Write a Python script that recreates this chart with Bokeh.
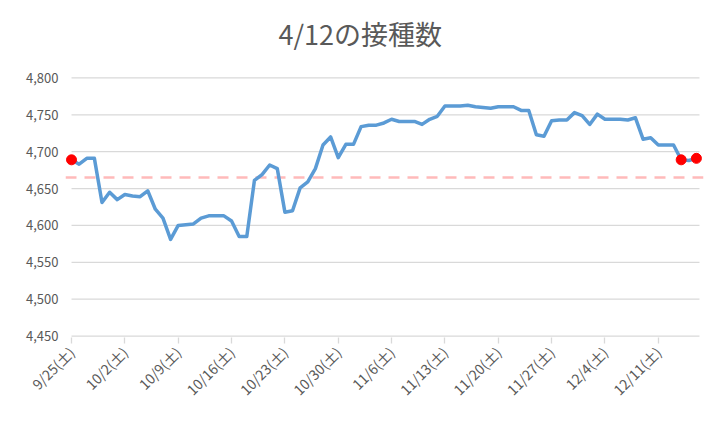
from bokeh.plotting import figure
from bokeh.models import Range1d, FixedTicker, NumeralTickFormatter, Span, Title
from bokeh.embed import file_html
from bokeh.resources import INLINE

# ---- data ----
title_text = "4/12の接種数"
tick_labels = ["9/25(土)", "10/2(土)", "10/9(土)", "10/16(土)", "10/23(土)", "10/30(土)",
               "11/6(土)", "11/13(土)", "11/20(土)", "11/27(土)", "12/4(土)", "12/11(土)"]
values = [4689, 4683, 4691, 4691, 4631, 4645, 4635, 4642, 4640, 4639,
          4647, 4622, 4610, 4581, 4600, 4601, 4602, 4610, 4613, 4613,
          4613, 4606, 4585, 4585, 4661, 4669, 4682, 4677, 4618, 4620,
          4651, 4659, 4677, 4709, 4720, 4692, 4710, 4710, 4734, 4736,
          4736, 4739, 4744, 4741, 4741, 4741, 4737, 4744, 4748, 4762,
          4762, 4762, 4763, 4761, 4760, 4759, 4761, 4761, 4761, 4756,
          4756, 4723, 4721, 4742, 4743, 4743, 4753, 4749, 4737, 4751,
          4744, 4744, 4744, 4743, 4746, 4717, 4719, 4709, 4709, 4709,
          4689, 4688, 4691]
marked_idx = [0, 80, 82]
ref_value = 4665
y_ticks = [4450, 4500, 4550, 4600, 4650, 4700, 4750, 4800]

FONT = "Noto Sans CJK JP"
GRAY = "#595959"
GRID = "#D9D9D9"

x = list(range(len(values)))
tick_pos = [i * 7 for i in range(len(tick_labels))]
x_end = len(values) - 1 + 0.4

p = figure(width=706, height=417, output_backend="svg", toolbar_location=None,
           x_range=Range1d(-0.79, 82.93), y_range=Range1d(4448, 4802),
           min_border_left=65, min_border_right=3, min_border_top=76, min_border_bottom=80)
p.title = None
# spacer panel between plot area and title, then the title itself
p.add_layout(Title(text=" ", text_font_size="1px", standoff=19), "above")
p.add_layout(Title(text=title_text, align="left", offset=213, standoff=0,
                   vertical_align="top",
                   text_font=FONT, text_font_size="27px", text_font_style="normal",
                   text_color=GRAY), "above")
p.outline_line_color = None
p.background_fill_color = "white"
p.border_fill_color = "white"
p.xgrid.visible = False
p.ygrid.visible = False

# gridlines and axis line drawn over the category span
p.segment(x0=[0] * len(y_ticks), x1=[x_end] * len(y_ticks), y0=y_ticks, y1=y_ticks,
          line_color=GRID, line_width=1.3)

ref = Span(location=ref_value, dimension="width", line_color="#FFBABA",
           line_width=2.6, line_dash="11 8", level="underlay")
p.add_layout(ref)

p.line(x, values, line_color="#5B9BD5", line_width=3.5, line_join="round", line_cap="round")
p.scatter([x[i] for i in marked_idx], [values[i] for i in marked_idx], size=10,
          fill_color="#FF0000", line_color="#FF0000")

# y axis
p.yaxis.ticker = FixedTicker(ticks=y_ticks)
p.yaxis.formatter = NumeralTickFormatter(format="0,0")
p.yaxis.axis_line_color = None
p.yaxis.major_tick_line_color = None
p.yaxis.minor_tick_line_color = None
p.yaxis.major_tick_out = 0
p.yaxis.major_label_standoff = 7
p.yaxis.major_label_text_font = FONT
p.yaxis.major_label_text_font_size = "13px"
p.yaxis.major_label_text_color = GRAY

# x axis
p.xaxis.ticker = FixedTicker(ticks=tick_pos)
p.xaxis.major_label_overrides = {tp: lab for tp, lab in zip(tick_pos, tick_labels)}
p.xaxis.axis_line_color = None
p.xaxis.major_tick_line_color = GRID
p.xaxis.major_tick_line_width = 1.3
p.xaxis.major_tick_out = 6
p.xaxis.major_tick_in = 0
p.xaxis.minor_tick_line_color = None
p.xaxis.major_label_orientation = 0.785398
p.xaxis.major_label_standoff = 6
p.xaxis.major_label_text_font = FONT
p.xaxis.major_label_text_font_size = "14px"
p.xaxis.major_label_text_color = GRAY

open("out.html", "w").write(file_html(p, INLINE))
